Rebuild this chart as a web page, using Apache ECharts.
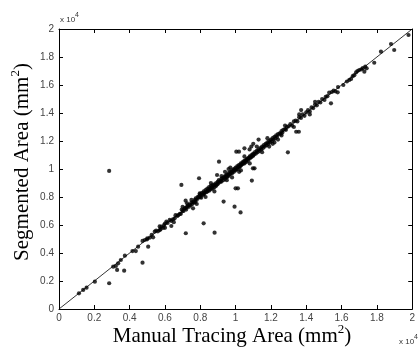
<!DOCTYPE html>
<html>
<head>
<meta charset="utf-8">
<script src="https://cdn.jsdelivr.net/npm/echarts@6/dist/echarts.min.js"></script>
<style>html,body{margin:0;padding:0;background:#fff}#c{width:418px;height:348px}</style>
</head>
<body>
<div id="c"></div>
<script>
// values in units of 10^4 mm^2
var xTicks = [0, 0.2, 0.4, 0.6, 0.8, 1, 1.2, 1.4, 1.6, 1.8, 2];
var yTicks = [0, 0.2, 0.4, 0.6, 0.8, 1, 1.2, 1.4, 1.6, 1.8, 2];
var identityLine = [[0, 0], [2, 2]];
var lowPoints = [
  [0.113,0.112],[0.137,0.136],[0.156,0.152],[0.203,0.195],[0.284,0.184],[0.284,0.986],
  [0.307,0.302],[0.322,0.307],[0.335,0.326],[0.329,0.279],[0.350,0.350],[0.373,0.381],
  [0.369,0.274],[0.416,0.414],[0.435,0.414],[0.448,0.445],[0.473,0.331],[0.473,0.486],
  [0.486,0.493],[0.499,0.498],[0.505,0.445]
];
var midPoints = [
  [0.50,0.505],[0.515,0.51],[0.525,0.53],[0.533,0.512],[0.542,0.552],[0.55,0.56],[0.56,0.555],
  [0.571,0.564],[0.575,0.57],[0.58,0.588],[0.59,0.58],[0.595,0.60],[0.60,0.61],[0.608,0.624],
  [0.615,0.615],[0.627,0.636],[0.636,0.593],[0.635,0.63],[0.645,0.64],[0.655,0.648],[0.66,0.67],
  [0.67,0.665],[0.675,0.67],[0.684,0.679],[0.69,0.68],[0.693,0.886],[0.695,0.71],[0.70,0.70],
  [0.705,0.70],[0.712,0.719],[0.715,0.72],[0.718,0.541],[0.717,0.774],[0.72,0.71],[0.725,0.755],
  [0.725,0.73],[0.73,0.74],[0.735,0.73],[0.74,0.745],[0.745,0.74],[0.75,0.779],[0.75,0.76],
  [0.755,0.75],[0.759,0.719],[0.76,0.765],[0.765,0.76],[0.77,0.78],[0.772,0.765],[0.774,0.79],
  [0.78,0.78],[0.785,0.80],[0.79,0.795],[0.793,0.934],[0.795,0.81],[0.797,0.826],[0.80,0.80],
  [0.80,0.82],[0.805,0.795],[0.81,0.83],[0.815,0.815],[0.819,0.612],[0.82,0.84],[0.82,0.82],
  [0.825,0.83],[0.83,0.85],[0.835,0.835],[0.84,0.86],[0.84,0.84],[0.845,0.85],[0.85,0.87],
  [0.85,0.845],[0.855,0.86],[0.86,0.88],[0.86,0.855],[0.865,0.87],[0.87,0.885],[0.87,0.86],
  [0.875,0.88],[0.88,0.89],[0.88,0.87],[0.881,0.545],[0.885,0.885],[0.89,0.90],[0.89,0.88],
  [0.895,0.957],[0.895,0.89],[0.90,0.91],[0.90,0.895],[0.906,1.052],[0.905,0.92],[0.91,0.905],
  [0.915,0.915],[0.92,0.93],[0.92,0.91],[0.925,0.935],[0.93,0.92],[0.932,0.767],[0.935,0.94],
  [0.94,0.95],[0.94,0.93],[0.94,0.98],[0.945,0.945],[0.95,0.96],[0.95,0.94],[0.955,0.955],
  [0.96,0.97],[0.96,0.95],[0.96,1.0],[0.965,0.96],[0.97,0.98],[0.97,0.965],[0.975,0.975],
  [0.98,0.99],[0.98,0.97],[0.98,0.94],[0.985,0.985],[0.99,1.00],[0.99,0.98],[0.994,0.731],
  [0.995,0.995],[1.00,1.01],[1.00,0.99],[1.0,0.862],[1.004,1.124],[1.005,1.00],[1.01,1.02],
  [1.01,1.00],[1.013,0.862],[1.015,1.015],[1.019,1.124],[1.02,1.03],[1.02,1.01],[1.025,1.02],
  [1.028,0.69],[1.03,1.04],[1.03,1.025],[1.03,0.99],[1.035,1.035],[1.04,1.05],[1.04,1.035],
  [1.045,1.045],[1.05,1.148],[1.05,1.06],[1.05,1.04],[1.055,1.055],[1.06,1.065],[1.06,1.05],
  [1.065,1.07],[1.07,1.075],[1.07,1.06],[1.075,1.08],[1.079,1.14],[1.08,1.09],[1.08,1.075],
  [1.085,1.085],[1.089,1.16],[1.09,1.10],[1.09,1.085],[1.092,0.917],[1.095,1.095],[1.098,1.005],
  [1.10,1.18],[1.10,1.11],[1.10,1.095],[1.107,1.005],[1.105,1.105],
  [0.57,0.59],[0.60,0.58],[0.65,0.62],[0.70,0.73],[0.78,0.75],[0.83,0.80],[0.86,0.90],
  [0.88,0.84],[0.92,0.95],[0.95,0.92],[0.97,1.01],[1.02,0.98],[1.05,1.09],[1.08,1.04]
];
var highPoints = [
  [1.11,1.12],[1.115,1.11],[1.12,1.13],[1.125,1.12],[1.13,1.21],[1.13,1.14],[1.135,1.13],
  [1.14,1.15],[1.145,1.14],[1.15,1.16],[1.155,1.15],[1.16,1.17],[1.165,1.16],[1.17,1.18],
  [1.175,1.17],[1.18,1.19],[1.185,1.18],[1.19,1.20],[1.19,1.16],[1.195,1.19],[1.20,1.21],
  [1.205,1.20],[1.21,1.22],[1.21,1.18],[1.215,1.21],[1.22,1.23],[1.225,1.22],[1.23,1.24],
  [1.235,1.23],[1.24,1.25],[1.24,1.21],[1.25,1.255],[1.255,1.25],[1.26,1.27],[1.265,1.26],
  [1.27,1.28],[1.28,1.285],[1.285,1.28],[1.29,1.30],[1.296,1.119],[1.30,1.305],[1.31,1.32],
  [1.32,1.31],[1.33,1.34],[1.34,1.345],[1.343,1.266],[1.35,1.34],[1.358,1.266],[1.36,1.37],
  [1.37,1.365],[1.371,1.421],[1.38,1.39],[1.39,1.38],[1.40,1.405],[1.41,1.42],[1.42,1.41],
  [1.43,1.44],[1.44,1.435],[1.45,1.46],[1.46,1.455],[1.47,1.48],[1.48,1.475],[1.49,1.50],
  [1.503,1.493],[1.51,1.515],[1.52,1.52],[1.53,1.545],[1.54,1.469],[1.545,1.55],[1.555,1.56],
  [1.565,1.555],[1.578,1.548],[1.58,1.585],[1.61,1.60],[1.63,1.625],[1.644,1.636],[1.654,1.643],
  [1.663,1.663],[1.672,1.67],[1.682,1.69],[1.69,1.70],[1.70,1.707],[1.712,1.712],[1.72,1.72],
  [1.729,1.695],[1.734,1.731],[1.742,1.719],[1.785,1.759],[1.823,1.838],[1.88,1.893],
  [1.898,1.85],[1.979,1.957],
  [1.12,1.16],[1.15,1.12],[1.18,1.22],[1.22,1.19],[1.26,1.24],[1.28,1.31],[1.33,1.30],
  [1.36,1.39],[1.42,1.39],[1.45,1.48]
];
var points = lowPoints.concat(midPoints, highPoints);

var chart = echarts.init(document.getElementById('c'), null, {renderer: 'canvas'});
var labelFont = {fontFamily: 'Liberation Sans', fontSize: 10, color: '#444'};
function axisCommon(show) {
  return {
    type: 'value', min: 0, max: 2, interval: 0.2,
    axisLine: {show: true, onZero: false, lineStyle: {color: '#000', width: 1}},
    axisTick: {show: true, inside: true, length: 4, lineStyle: {color: '#000', width: 1}},
    splitLine: {show: false},
    axisLabel: Object.assign({show: show, formatter: function (v) { return String(+v.toFixed(1)); }}, labelFont)
  };
}
var xa0 = axisCommon(true); xa0.position = 'bottom'; xa0.axisLabel.margin = 4;
var xa1 = axisCommon(false); xa1.position = 'top';
var ya0 = axisCommon(true); ya0.position = 'left'; ya0.axisLabel.margin = 5;
var ya1 = axisCommon(false); ya1.position = 'right';

var serif = 'Liberation Serif';
chart.setOption({
  animation: false,
  backgroundColor: '#fff',
  grid: {left: 59, right: 5, top: 29, bottom: 39},
  xAxis: [xa0, xa1],
  yAxis: [ya0, ya1],
  series: [
    {type: 'line', data: identityLine, symbol: 'none', lineStyle: {color: '#000', width: 0.8}, z: 1},
    {type: 'scatter', data: points, symbol: 'circle', symbolSize: 4.2, itemStyle: {color: '#000'}, z: 2}
  ],
  graphic: [
    {type: 'text', x: 232, y: 335, style: {
      text: '{a|Manual Tracing Area (mm}{s|2}{a|)}', align: 'center', verticalAlign: 'middle',
      rich: {a: {fontFamily: serif, fontSize: 21, lineHeight: 24, fill: '#000', verticalAlign: 'bottom'},
             s: {fontFamily: serif, fontSize: 13, lineHeight: 14, fill: '#000', verticalAlign: 'top'}}}},
    {type: 'text', x: 21, y: 162, rotation: Math.PI / 2, style: {
      text: '{a|Segmented Area (mm}{s|2}{a|)}', align: 'center', verticalAlign: 'middle',
      rich: {a: {fontFamily: serif, fontSize: 21, lineHeight: 24, fill: '#000', verticalAlign: 'bottom'},
             s: {fontFamily: serif, fontSize: 13, lineHeight: 14, fill: '#000', verticalAlign: 'top'}}}},
    {type: 'text', x: 60, y: 18, style: {
      text: '{a|x 10}{s|4}', align: 'left', verticalAlign: 'middle',
      rich: {a: {fontFamily: 'Liberation Sans', fontSize: 8, lineHeight: 12, fill: '#333', verticalAlign: 'bottom'},
             s: {fontFamily: 'Liberation Sans', fontSize: 7, lineHeight: 8, fill: '#333', verticalAlign: 'top'}}}},
    {type: 'text', x: 399, y: 340, style: {
      text: '{a|x 10}{s|4}', align: 'left', verticalAlign: 'middle',
      rich: {a: {fontFamily: 'Liberation Sans', fontSize: 8, lineHeight: 12, fill: '#333', verticalAlign: 'bottom'},
             s: {fontFamily: 'Liberation Sans', fontSize: 7, lineHeight: 8, fill: '#333', verticalAlign: 'top'}}}}
  ]
});
</script>
</body>
</html>
